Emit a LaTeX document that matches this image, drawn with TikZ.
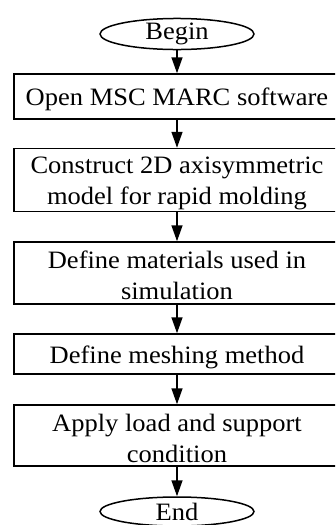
\documentclass[tikz,border=0pt]{standalone}
\usepackage{fontspec}
\setmainfont{Liberation Serif}[FakeStretch=1.06]
\usetikzlibrary{arrows.meta,shapes.geometric}
\tikzset{
  stepbox/.style={draw, line width=1.5pt, rectangle, minimum width=326pt,
    inner sep=0pt},
  steptext/.style={inner sep=0pt, align=center,
    font=\fontsize{25}{31}\selectfont},
  terminal/.style={draw, line width=1.5pt, ellipse, minimum width=154pt,
    minimum height=29pt, inner sep=0pt,
    font=\fontsize{25}{31}\selectfont},
  flow/.style={line width=1.5pt, -{Triangle[length=16pt,width=11pt]}}
}
\begin{document}
\begin{tikzpicture}[x=1pt,y=-1pt]
  \useasboundingbox (0,0) rectangle (335,525);
  \clip (0,0) rectangle (335,525);
  % terminals
  \node[terminal] (begin) at (177,34) {Begin};
  \node[terminal] (end) at (177,511.5) {End};
  % process boxes
  \node[stepbox, minimum height=45pt] (s1) at (177,96.5) {};
  \node[stepbox, minimum height=63pt] (s2) at (177,180) {};
  \node[stepbox, minimum height=62pt] (s3) at (177,273) {};
  \node[stepbox, minimum height=40pt] (s4) at (177,354) {};
  \node[stepbox, minimum height=61pt] (s5) at (177,435.5) {};
  % box captions, set slightly below centre
  \node[steptext] (t1) at ([yshift=-2.5pt]s1.center) {Open MSC MARC software};
  \node[steptext] (t2) at ([yshift=-3pt]s2.center) {Construct 2D axisymmetric\\model for rapid molding};
  \node[steptext] (t3) at ([yshift=-2pt]s3.center) {Define materials used in\\simulation};
  \node[steptext] (t4) at ([yshift=-3pt]s4.center) {Define meshing method};
  \node[steptext] (t5) at ([yshift=-3pt]s5.center) {Apply load and support\\condition};
  % connectors
  \draw[flow] (begin) -- (s1);
  \draw[flow] (s1) -- (s2);
  \draw[flow] (s2) -- (s3);
  \draw[flow] (s3) -- (s4);
  \draw[flow] (s4) -- (s5);
  \draw[flow] (s5) -- (end);
\end{tikzpicture}
\end{document}
